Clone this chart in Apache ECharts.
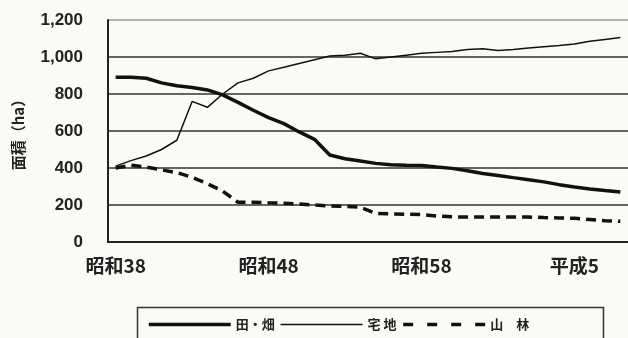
<!DOCTYPE html>
<html>
<head>
<meta charset="utf-8">
<script src="https://cdn.jsdelivr.net/npm/echarts@6/dist/echarts.min.js"></script>
<style>
  html, body { margin: 0; padding: 0; background: #fbfaf6; }
  #main { width: 628px; height: 338px; }
</style>
</head>
<body>
<div id="main"></div>
<script>
// 昭和38〜平成8
const years = [
  '昭和38', '昭和39', '昭和40', '昭和41', '昭和42', '昭和43', '昭和44', '昭和45', '昭和46', '昭和47',
  '昭和48', '昭和49', '昭和50', '昭和51', '昭和52', '昭和53', '昭和54', '昭和55', '昭和56', '昭和57',
  '昭和58', '昭和59', '昭和60', '昭和61', '昭和62', '昭和63', '平成1', '平成2', '平成3', '平成4',
  '平成5', '平成6', '平成7', '平成8',
];
const fieldArea = [
  890, 890, 885, 860, 845, 835, 822, 795, 755, 712,
  672, 640, 595, 555, 470, 450, 438, 425, 418, 415,
  413, 405, 398, 385, 370, 360, 348, 337, 325, 310,
  297, 287, 278, 270,
];
const housingArea = [
  410, 440, 465, 500, 550, 760, 728, 800, 860, 885,
  925, 945, 965, 985, 1005, 1010, 1020, 990, 1000, 1010,
  1020, 1025, 1030, 1040, 1045, 1035, 1040, 1048, 1055, 1062,
  1070, 1085, 1095, 1105,
];
const forestArea = [
  400, 415, 405, 390, 375, 350, 315, 275, 215, 215,
  212, 210, 205, 200, 195, 192, 188, 155, 152, 150,
  148, 140, 136, 135, 135, 135, 135, 135, 132, 130,
  128, 122, 115, 112,
];
const yTicks = [0, 200, 400, 600, 800, 1000, 1200];

const textColor = '#222';
const cjkFont = '"Noto Sans CJK JP", "Noto Sans", sans-serif';

const chart = echarts.init(document.getElementById('main'));
chart.setOption({
  backgroundColor: '#fbfaf6',
  animation: false,
  grid: {
    left: 108,
    top: 20,
    width: 526,
    height: 222,
  },
  legend: {
    left: 142,
    top: 313,
    itemWidth: 82,
    itemHeight: 12,
    itemGap: 5,
    itemStyle: { opacity: 0 },
    textStyle: { fontFamily: cjkFont, fontSize: 13, fontWeight: 'bold', color: textColor },
    data: [
      { name: '田・畑', lineStyle: { width: 3.5 } },
      { name: '宅 地', lineStyle: { width: 1.5 } },
      { name: '山　林', lineStyle: { width: 3.5, type: [10, 14] } },
    ],
  },
  graphic: [
    {
      type: 'rect',
      left: 135,
      top: 305,
      shape: { width: 466, height: 50 },
      style: { fill: 'none', stroke: '#333', lineWidth: 1.5 },
    },
  ],
  xAxis: {
    type: 'category',
    data: years,
    boundaryGap: true,
    axisLine: { lineStyle: { color: '#222', width: 2 } },
    axisTick: { inside: true, length: 6, interval: 9, lineStyle: { color: '#222', width: 1.5 } },
    axisLabel: {
      interval: 9,
      margin: 14,
      fontFamily: cjkFont,
      fontSize: 19,
      fontWeight: 'bold',
      color: textColor,
    },
    splitLine: { show: false },
  },
  yAxis: {
    type: 'value',
    min: yTicks[0],
    max: yTicks[yTicks.length - 1],
    interval: 200,
    name: '面積（ha）',
    nameLocation: 'middle',
    nameRotate: 90,
    nameGap: 82,
    nameTextStyle: { fontFamily: cjkFont, fontSize: 15, fontWeight: 'bold', color: textColor },
    axisLine: { show: true, lineStyle: { color: '#222', width: 2 } },
    axisTick: { show: false },
    axisLabel: {
      margin: 25,
      fontFamily: '"Liberation Sans", Arial, sans-serif',
      fontSize: 17,
      fontWeight: 'bold',
      color: textColor,
      formatter: v => v.toLocaleString('en-US'),
    },
    splitLine: {
      lineStyle: { color: ['#333', '#333', '#333', '#333', '#333', '#333', '#999'], width: 1.6 },
    },
  },
  series: [
    {
      name: '田・畑',
      type: 'line',
      data: fieldArea,
      symbol: 'none',
      itemStyle: { color: '#111' },
      lineStyle: { color: '#111', width: 3.5 },
    },
    {
      name: '宅 地',
      type: 'line',
      data: housingArea,
      symbol: 'none',
      itemStyle: { color: '#111' },
      lineStyle: { color: '#111', width: 1.5 },
    },
    {
      name: '山　林',
      type: 'line',
      data: forestArea,
      symbol: 'none',
      itemStyle: { color: '#111' },
      lineStyle: { color: '#111', width: 3.5, type: [10, 6] },
    },
  ],
});
</script>
</body>
</html>
